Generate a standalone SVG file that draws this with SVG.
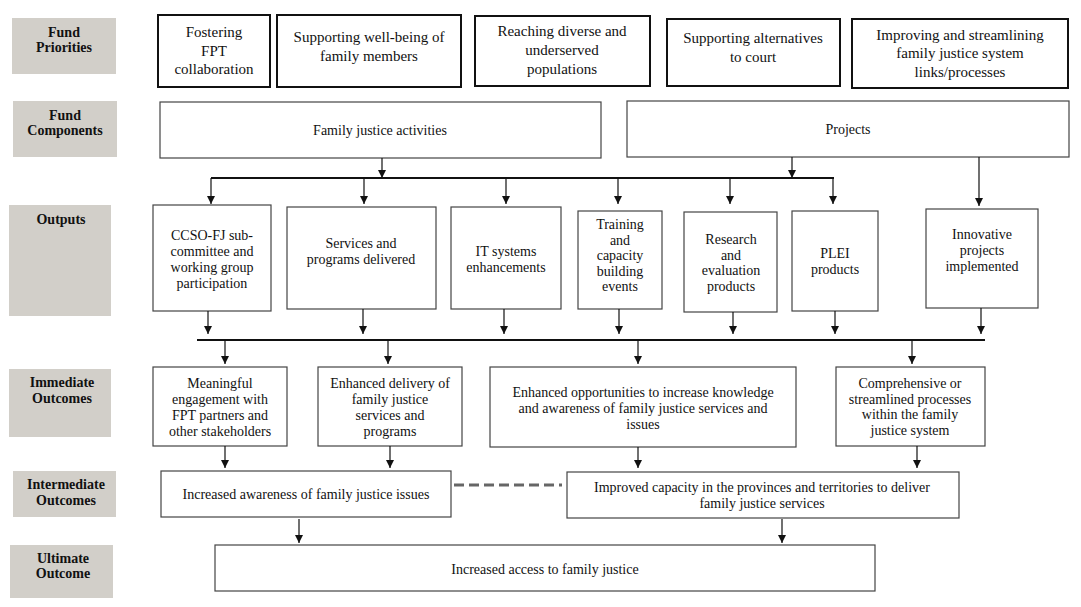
<svg xmlns="http://www.w3.org/2000/svg" width="1081" height="607" viewBox="0 0 1081 607">
<style>
  .lbl rect { fill: #d2cfc9; }
  .lbl text { font-family: "Liberation Serif", "Times New Roman", serif; font-weight: bold; font-size: 14px; fill: #111; text-anchor: middle; }
  .pri rect { fill: #fff; stroke: #111; stroke-width: 2; }
  .pri text { font-family: "Liberation Serif", "Times New Roman", serif; font-size: 15px; fill: #111; text-anchor: middle; }
  .box rect { fill: #fff; stroke: #444; stroke-width: 1.2; }
  .box text { font-family: "Liberation Serif", "Times New Roman", serif; font-size: 14px; fill: #111; text-anchor: middle; }
  .con path { fill: none; stroke: #111; stroke-width: 1.2; }
  .con path.bus { stroke-width: 2; }
  .con path.arr { marker-end: url(#ah); }
  .con path.dash { stroke: #666; stroke-width: 3; stroke-dasharray: 10 5; }
</style>
<defs>
  <marker id="ah" viewBox="0 0 10 10" refX="10" refY="5" markerWidth="9" markerHeight="8" markerUnits="userSpaceOnUse" orient="auto">
    <path d="M0,0 L10,5 L0,10 z" fill="#111"/>
  </marker>
</defs>
<rect width="1081" height="607" fill="#fff"/>

<!-- Row labels -->
<g id="lbl-priorities" class="lbl"><rect x="12" y="18" width="104" height="56"/><text x="64" y="37">Fund</text><text x="64" y="52">Priorities</text></g>
<g id="lbl-components" class="lbl"><rect x="13" y="101" width="104" height="56"/><text x="65" y="120">Fund</text><text x="65" y="135">Components</text></g>
<g id="lbl-outputs" class="lbl"><rect x="9" y="205" width="102" height="111"/><text x="61" y="224">Outputs</text></g>
<g id="lbl-immediate" class="lbl"><rect x="9" y="369" width="102" height="68"/><text x="62" y="387">Immediate</text><text x="62" y="403">Outcomes</text></g>
<g id="lbl-intermediate" class="lbl"><rect x="13" y="471" width="103" height="46"/><text x="66" y="489">Intermediate</text><text x="66" y="505">Outcomes</text></g>
<g id="lbl-ultimate" class="lbl"><rect x="10" y="545" width="103" height="53"/><text x="63" y="563">Ultimate</text><text x="63" y="578">Outcome</text></g>

<!-- Fund priorities -->
<g id="p1" class="pri"><rect x="158" y="15" width="112" height="72"/><text x="214" y="37">Fostering</text><text x="214" y="56">FPT</text><text x="214" y="74">collaboration</text></g>
<g id="p2" class="pri"><rect x="277" y="15" width="184" height="72"/><text x="369" y="42">Supporting well-being of</text><text x="369" y="61">family members</text></g>
<g id="p3" class="pri"><rect x="475" y="16" width="175" height="70"/><text x="562" y="36">Reaching diverse and</text><text x="562" y="55">underserved</text><text x="562" y="74">populations</text></g>
<g id="p4" class="pri"><rect x="667" y="19" width="173" height="67"/><text x="753" y="43">Supporting alternatives</text><text x="753" y="62">to court</text></g>
<g id="p5" class="pri"><rect x="852" y="19" width="216" height="69"/><text x="960" y="40">Improving and streamlining</text><text x="960" y="58">family justice system</text><text x="960" y="77">links/processes</text></g>

<!-- Fund components -->
<g id="c1" class="box"><rect x="160" y="102" width="441" height="56"/><text x="380" y="135">Family justice activities</text></g>
<g id="c2" class="box"><rect x="627" y="101" width="442" height="56"/><text x="848" y="134">Projects</text></g>

<!-- Outputs -->
<g id="o1" class="box"><rect x="153" y="205" width="118" height="106"/><text x="212" y="240">CCSO-FJ sub-</text><text x="212" y="256">committee and</text><text x="212" y="272">working group</text><text x="212" y="288">participation</text></g>
<g id="o2" class="box"><rect x="287" y="207" width="149" height="102"/><text x="361" y="248">Services and</text><text x="361" y="264">programs delivered</text></g>
<g id="o3" class="box"><rect x="451" y="207" width="110" height="102"/><text x="506" y="256">IT systems</text><text x="506" y="272">enhancements</text></g>
<g id="o4" class="box"><rect x="578" y="211" width="84" height="98"/><text x="620" y="229">Training</text><text x="620" y="244.6">and</text><text x="620" y="260.2">capacity</text><text x="620" y="275.8">building</text><text x="620" y="291.4">events</text></g>
<g id="o5" class="box"><rect x="684" y="212" width="93" height="100"/><text x="731" y="244">Research</text><text x="731" y="260">and</text><text x="731" y="275">evaluation</text><text x="731" y="291">products</text></g>
<g id="o6" class="box"><rect x="792" y="211" width="86" height="100"/><text x="835" y="258">PLEI</text><text x="835" y="274">products</text></g>
<g id="o7" class="box"><rect x="926" y="209" width="112" height="99"/><text x="982" y="239">Innovative</text><text x="982" y="255">projects</text><text x="982" y="271">implemented</text></g>

<!-- Immediate outcomes -->
<g id="i1" class="box"><rect x="153" y="367" width="134" height="79"/><text x="220" y="388">Meaningful</text><text x="220" y="404">engagement with</text><text x="220" y="420">FPT partners and</text><text x="220" y="436">other stakeholders</text></g>
<g id="i2" class="box"><rect x="318" y="367" width="144" height="79"/><text x="390" y="388">Enhanced delivery of</text><text x="390" y="404">family justice</text><text x="390" y="420">services and</text><text x="390" y="436">programs</text></g>
<g id="i3" class="box"><rect x="490" y="367" width="306" height="80"/><text x="643" y="397">Enhanced opportunities to increase knowledge</text><text x="643" y="413">and awareness of family justice services and</text><text x="643" y="429">issues</text></g>
<g id="i4" class="box"><rect x="836" y="367" width="149" height="79"/><text x="910" y="388">Comprehensive or</text><text x="910" y="404">streamlined processes</text><text x="910" y="419">within the family</text><text x="910" y="435">justice system</text></g>

<!-- Intermediate outcomes -->
<g id="m1" class="box"><rect x="161" y="471" width="290" height="46"/><text x="306" y="499">Increased awareness of family justice issues</text></g>
<g id="m2" class="box"><rect x="567" y="472" width="392" height="46"/><text x="762" y="492">Improved capacity in the provinces and territories to deliver</text><text x="762" y="508">family justice services</text></g>

<!-- Ultimate outcome -->
<g id="u1" class="box"><rect x="215" y="545" width="660" height="46"/><text x="545" y="574">Increased access to family justice</text></g>

<!-- Connectors -->
<g id="connectors" class="con">
  <path class="arr" d="M382,158 V178"/>
  <path class="arr" d="M792,157 V178"/>
  <path class="bus" d="M211,178 H834"/>
  <path class="arr" d="M211,178 V204"/>
  <path class="arr" d="M364,178 V204"/>
  <path class="arr" d="M506,178 V204"/>
  <path class="arr" d="M618,178 V204"/>
  <path class="arr" d="M730,178 V204"/>
  <path class="arr" d="M833,178 V204"/>
  <path class="arr" d="M979,157 V206"/>

  <path class="arr" d="M208,311 V334"/>
  <path class="arr" d="M363,309 V334"/>
  <path class="arr" d="M504,309 V334"/>
  <path class="arr" d="M619,309 V334"/>
  <path class="arr" d="M733,312 V334"/>
  <path class="arr" d="M835,311 V334"/>
  <path class="arr" d="M981,308 V334"/>
  <path class="bus" d="M197,340 H985"/>

  <path class="arr" d="M225,340 V364"/>
  <path class="arr" d="M388,340 V364"/>
  <path class="arr" d="M638,340 V364"/>
  <path class="arr" d="M912,340 V364"/>

  <path class="arr" d="M225,446 V468"/>
  <path class="arr" d="M390,446 V468"/>
  <path class="arr" d="M638,447 V468"/>
  <path class="arr" d="M917,446 V468"/>

  <path class="dash" d="M454,485 H562"/>

  <path class="arr" d="M299,519 V543"/>
  <path class="arr" d="M782,519 V543"/>
</g>
</svg>
